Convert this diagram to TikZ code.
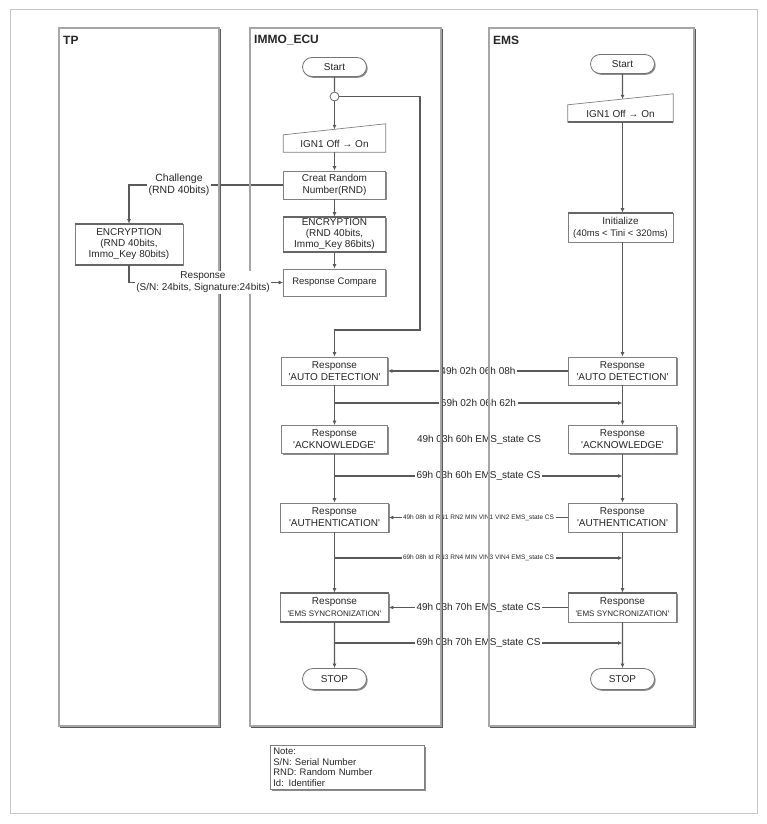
\documentclass[tikz,border=0pt]{standalone}
\usepackage{fontspec}
\setmainfont{Liberation Sans}
\usetikzlibrary{arrows.meta,shapes.misc,shadows,calc}
\newcommand\fsz[2]{\fontsize{#1}{#2}\selectfont}
\newcommand\sq{\textquotesingle}
\begin{document}
\begin{tikzpicture}[x=1pt,y=-1pt,
  shd/.style={drop shadow={shadow xshift=1.2pt,shadow yshift=-1.3pt,fill=black!45,opacity=1}},
  box/.style={draw=black!50, line width=0.7pt, fill=white, align=center, inner sep=1pt,
              font=\fsz{10}{12}, text=black!85, shd},
  rbox/.style={box, minimum width=106pt, minimum height=28pt},
  encbox/.style={box, font=\fsz{10}{11}},
  term/.style={rounded rectangle, draw=black!55, line width=0.8pt, fill=white, inner sep=1pt,
               font=\fsz{10}{12}, text=black!85, minimum width=66pt, minimum height=19pt, shd},
  conn/.style={circle, draw=black!60, line width=0.8pt, fill=white, minimum size=9pt, inner sep=0pt},
  ignbox/.style={minimum width=102pt, minimum height=17pt, inner sep=0pt, font=\fsz{10}{12}, text=black!85},
  boxline/.style={draw=black!50, line width=0.7pt},
  heavy/.style={draw=black!60, line width=2.2pt},
  line/.style={draw=black!65, line width=1.1pt},
  flow/.style={line, -{Latex[length=4.5pt,width=4pt]}},
  msg/.style={fill=white, inner sep=1.5pt, font=\fsz{10}{12}, align=center, text=black!85},
  msgs/.style={msg, font=\fsz{6.5}{8}},
  lane/.style={draw=black!35, line width=1.2pt},
  laneshade/.style={draw=black!65, line width=1.2pt},
  title/.style={inner sep=1pt, font=\fsz{12}{14}\bfseries, text=black!85, anchor=west},
  notebox/.style={draw=black!50, line width=0.7pt, fill=white, text width=148pt, inner sep=3pt,
                  align=left, font=\fsz{9.5}{10.5}, text=black!85, shd, anchor=north west},
  frame/.style={draw=black!22, line width=1pt}]
\useasboundingbox (0,0) rectangle (767,824);
\draw[frame] (10,10) rectangle (757,813);

% ---------------- IMMO_ECU column
\node[term] (imstart) at (334.5,67) {Start};
\node[conn] (circ) at (334.5,96.5) {};
\node[ignbox] (imign) at (334.5,143.5) {IGN1 Off → On};
\draw[boxline] (imign.south west) -- (imign.south east) -- ([yshift=11pt]imign.north east) -- (imign.north west) -- cycle;
\coordinate (imignin) at ([yshift=5.5pt]imign.north);
\node[box, minimum width=102pt, minimum height=28pt] (crn) at (334.5,185) {Creat Random\\Number(RND)};
\node[encbox, minimum width=102pt, minimum height=35pt] (imenc) at (334.5,234.5) {ENCRYPTION\\(RND 40bits,\\Immo\_Key 86bits)};
\node[box, minimum width=102pt, minimum height=27pt, font=\fsz{9.5}{11}] (rc) at (334.5,282.5) {Response Compare};
\node[rbox] (imauto) at (334.5,371) {Response\\\sq AUTO DETECTION\sq};
\node[rbox] (imack) at (334.5,439.5) {Response\\\sq ACKNOWLEDGE\sq};
\node[rbox, minimum width=108pt, minimum height=29pt] (imauth) at (334.5,517.5) {Response\\\sq AUTHENTICATION\sq};
\node[rbox, minimum width=108pt, minimum height=29pt] (imsync) at (334.5,607.5) {Response\\{\fsz{8}{9}\sq EMS SYNCRONIZATION\sq}};
\node[term, minimum height=21pt] (imstop) at (334.5,679) {STOP};

% ---------------- EMS column
\node[term] (emstart) at (622.5,64) {Start};
\node[ignbox, minimum width=105pt] (emign) at (620.5,113.5) {IGN1 Off → On};
\draw[boxline] (emign.south west) -- (emign.south east) -- ([yshift=11pt]emign.north east) -- (emign.north west) -- cycle;
\coordinate (emignin) at ([xshift=2pt,yshift=5.5pt]emign.north);
\node[box, minimum width=105pt, minimum height=29pt] (init) at (620.5,227.5) {Initialize\\{\fsz{9.5}{11}(40ms < Tini < 320ms)}};
\node[rbox, minimum width=108pt] (emauto) at (622.5,371) {Response\\\sq AUTO DETECTION\sq};
\node[rbox, minimum width=108pt] (emack) at (622.5,439.5) {Response\\\sq ACKNOWLEDGE\sq};
\node[rbox, minimum width=108pt, minimum height=29pt] (emauth) at (622.5,517.5) {Response\\\sq AUTHENTICATION\sq};
\node[rbox, minimum width=108pt, minimum height=29pt] (emsync) at (622.5,607.5) {Response\\{\fsz{8}{9}\sq EMS SYNCRONIZATION\sq}};
\node[term, minimum height=21pt] (emstop) at (622.5,679) {STOP};

% ---------------- TP column
\node[encbox, minimum width=108pt, minimum height=41pt] (tpenc) at (129,244.5) {ENCRYPTION\\(RND 40bits,\\Immo\_Key 80bits)};

% heavy edges
\foreach \n in {imenc,tpenc,imsync}{
  \draw[heavy] (\n.north west) -- (\n.north east);
  \draw[heavy] (\n.south west) -- (\n.south east);}
\draw[heavy] (init.north west) -- (init.north east);
\draw[heavy] (emsync.north west) -- (emsync.north east);
\draw[heavy] (emign.south west) -- (emign.south east);

% ---------------- IMMO flow
\draw[line] (imstart) -- (circ);
\draw[flow] (circ) -- (imignin);
\draw[flow] (imign) -- (crn);
\draw[flow] (crn) -- (imenc);
\draw[flow] (imenc) -- (rc);
\draw[flow] (circ.east) -| (420,330) -| (imauto.north);
\draw[flow] (imauto) -- (imack);
\draw[flow] (imack) -- (imauth);
\draw[flow] (imauth) -- (imsync);
\draw[flow] (imsync) -- (imstop);

% ---------------- EMS flow
\draw[flow] (emstart) -- (emignin);
\draw[flow] ([xshift=2pt]emign.south) -- ([xshift=2pt]init.north);
\draw[flow] ([xshift=2pt]init.south) -- (emauto.north);
\draw[flow] (emauto) -- (emack);
\draw[flow] (emack) -- (emauth);
\draw[flow] (emauth) -- (emsync);
\draw[flow] (emsync) -- (emstop);

% ---------------- messages
\coordinate (b1) at (334.5,403); \coordinate (e1) at (622.5,403);
\coordinate (b2) at (334.5,476); \coordinate (e2) at (622.5,476);
\coordinate (b3) at (334.5,558); \coordinate (e3) at (622.5,558);
\coordinate (b4) at (334.5,643); \coordinate (e4) at (622.5,643);
\draw[flow] (emauto) -- node[msg] (m1) {49h 02h 06h 08h} (imauto);
\draw[flow] (b1) -- node[msg] (m2) {69h 02h 06h 62h} (e1);
\node[msg] (m3) at (479,440) {49h 03h 60h EMS\_state CS};
\draw[flow] (b2) -- node[msg] (m4) {69h 03h 60h EMS\_state CS} (e2);
\draw[flow] (emauth) -- node[msgs] (m5) {49h 08h Id RN1 RN2 MIN VIN1 VIN2 EMS\_state CS} (imauth);
\draw[flow, line width=2.4pt] (b3) -- node[msgs] (m6) {69h 08h Id RN3 RN4 MIN VIN3 VIN4 EMS\_state CS} (e3);
\draw[flow] (emsync) -- node[msg] (m7) {49h 03h 70h EMS\_state CS} (imsync);
\draw[flow] (b4) -- node[msg] (m8) {69h 03h 70h EMS\_state CS} (e4);

% ---------------- TP exchange
\draw[flow] (crn.west) -| (tpenc.north);
\node[msg, font=\fsz{10.5}{12}] (chl) at (179,184.5) {Challenge\\(RND 40bits)};
\draw[flow] (tpenc.south) |- (rc.west);

% ---------------- lanes
\draw[lane] (59,28) rectangle (219,726);
\draw[laneshade] (220.3,29) -- (220.3,727.3) -- (60,727.3);
\draw[lane] (250,28) rectangle (441,726);
\draw[laneshade] (442.3,29) -- (442.3,727.3) -- (251,727.3);
\draw[lane] (489,28) rectangle (694,726);
\draw[laneshade] (695.3,29) -- (695.3,727.3) -- (490,727.3);
\node[title] (tpt) at (62,40) {TP};
\node[title] (imt) at (253,40) {IMMO\_ECU};
\node[title] (emt) at (492,40) {EMS};

\node[msg] (rsl) at (203,282.5) {Response\\(S/N: 24bits, Signature:24bits)};

% ---------------- note
\node[notebox] (note) at (270,745) {Note:\\S/N: Serial Number\\RND: Random Number\\Id: Identifier};
\end{tikzpicture}
\end{document}
